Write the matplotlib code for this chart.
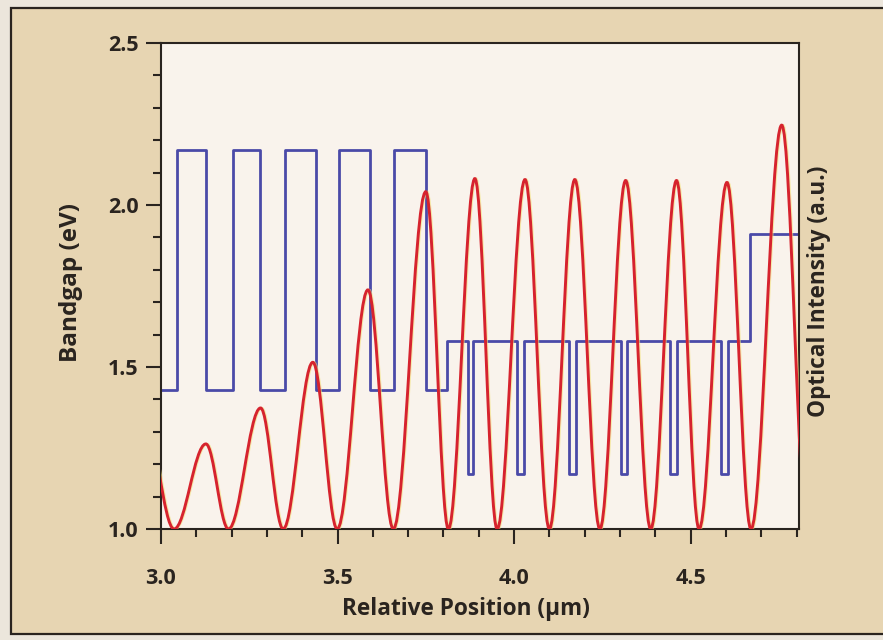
import matplotlib
matplotlib.use("Agg")
import matplotlib.pyplot as plt
from matplotlib.patches import Rectangle, PathPatch
from matplotlib.path import Path
from matplotlib.transforms import offset_copy

# bandgap profile (step edges in um, level after each edge in eV)
bandgap_edges = [3.0, 3.044, 3.128, 3.203, 3.280, 3.352, 3.439, 3.504, 3.592,
                 3.661, 3.750, 3.811, 3.869, 3.884, 4.009, 4.028, 4.156, 4.175,
                 4.302, 4.321, 4.443, 4.462, 4.586, 4.605, 4.668, 4.807]
bandgap_levels = [1.43, 2.17, 1.43, 2.17, 1.43, 2.17, 1.43, 2.17, 1.43,
                  2.17, 1.43, 1.58, 1.17, 1.58, 1.17, 1.58, 1.17, 1.58,
                  1.17, 1.58, 1.17, 1.58, 1.17, 1.58, 1.91, 1.91]

# optical intensity maxima / minima (um, a.u.)
intensity_x = [2.955, 3.037, 3.127, 3.191, 3.282, 3.346, 3.430, 3.499, 3.586,
               3.658, 3.750, 3.814, 3.889, 3.952, 4.031, 4.100, 4.172, 4.243,
               4.316, 4.387, 4.460, 4.524, 4.603, 4.671, 4.758, 4.831]
intensity_y = [0.22, 0.0, 0.175, 0.0, 0.249, 0.0, 0.343, 0.0, 0.492,
               0.0, 0.694, 0.0, 0.721, 0.0, 0.719, 0.0, 0.719, 0.0,
               0.717, 0.0, 0.717, 0.0, 0.713, 0.0, 0.831, 0.0]

x_ticks = [3.0, 3.5, 4.0, 4.5]
y_ticks = [1.0, 1.5, 2.0, 2.5]

PAGE = "#ece6dc"
BEIGE = "#e7d5b2"
PLOT_BG = "#f9f3ec"
INK = "#2a241f"
BLUE = "#4a4aa8"
RED = "#d6232e"

font = {"family": "Open Sans", "weight": "bold"}

fig = plt.figure(figsize=(8.83, 6.4), dpi=100, facecolor=PAGE)
fig.add_artist(Rectangle((11 / 883, 6 / 640), 1.0, 626 / 640, transform=fig.transFigure,
                         facecolor=BEIGE, edgecolor=INK, lw=1.6, zorder=0))

ax = fig.add_axes([161 / 883, 111 / 640, 638 / 883, 486 / 640])
ax.set_facecolor(PLOT_BG)
ax.set_xlim(3.0, 4.807)
ax.set_ylim(1.0, 2.5)

ax.step(bandgap_edges, bandgap_levels, where="post", color=BLUE, lw=2.0)

for s in ax.spines.values():
    s.set_color(INK)
    s.set_linewidth(1.5)

ax.set_xticks(x_ticks)
ax.set_xticklabels([f"{v:.1f}" for v in x_ticks])
ax.set_yticks(y_ticks)
ax.set_yticklabels([f"{v:.1f}" for v in y_ticks])
ax.set_xticks([3.1, 3.2, 3.3, 3.4, 3.6, 3.7, 3.8, 3.9, 4.1, 4.2, 4.3, 4.4, 4.6, 4.7, 4.8], minor=True)
ax.set_yticks([1.1, 1.2, 1.3, 1.4, 1.6, 1.7, 1.8, 1.9, 2.1, 2.2, 2.3, 2.4], minor=True)
ax.tick_params(which="major", direction="out", length=11, width=1.5, color=INK)
ax.tick_params(which="minor", direction="out", length=5.5, width=1.5, color=INK)
ax.tick_params(axis="x", which="major", pad=17)
ax.tick_params(axis="y", which="major", pad=5)
for lab in ax.get_xticklabels() + ax.get_yticklabels():
    lab.set_fontfamily("Open Sans")
    lab.set_fontweight("bold")
    lab.set_fontsize(15.5)
    lab.set_color(INK)

ax.set_xlabel("Relative Position (\u00b5m)", fontsize=16.3, color=INK, **font)
ax.xaxis.set_label_coords(0.478, -0.140)
ax.set_ylabel("Bandgap (eV)", fontsize=17.5, color=INK, **font)
ax.yaxis.set_label_coords(-0.122, 0.508)

# intensity on a second axis
ax2 = ax.twinx()
ax2.set_ylim(0, 1)
ax2.set_yticks([])
for s in ax2.spines.values():
    s.set_visible(False)
ax2.set_ylabel("Optical Intensity (a.u.)", fontsize=16.3, color=INK, rotation=90, **font)
ax2.yaxis.set_label_coords(1.0125, 0.49)

# smooth curve through the extrema (cubic Bezier, flat tangents at extrema)
k = 1 - 2 / 3.14159265
verts = [(intensity_x[0], intensity_y[0])]
codes = [Path.MOVETO]
for i in range(len(intensity_x) - 1):
    x1, y1 = intensity_x[i], intensity_y[i]
    x2, y2 = intensity_x[i + 1], intensity_y[i + 1]
    h = x2 - x1
    verts += [(x1 + k * h, y1), (x2 - k * h, y2), (x2, y2)]
    codes += [Path.CURVE4] * 3
path = Path(verts, codes)

fringe = offset_copy(ax2.transData, fig=fig, x=1.4, y=0, units="dots")
ax2.add_patch(PathPatch(path, facecolor="none", edgecolor="#f2e27a", lw=1.6,
                        transform=fringe, alpha=0.6))
ax2.add_patch(PathPatch(path, facecolor="none", edgecolor=RED, lw=2.1))

fig.savefig("out.png", dpi=100, facecolor=PAGE)
